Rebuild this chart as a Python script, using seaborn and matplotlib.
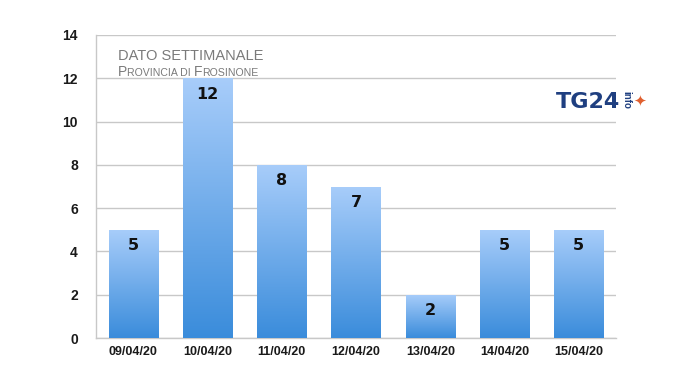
import matplotlib
matplotlib.use("Agg")
import matplotlib.pyplot as plt
import matplotlib.colors as mcolors
import numpy as np
import pandas as pd
import seaborn as sns

dates = ["09/04/20", "10/04/20", "11/04/20", "12/04/20", "13/04/20", "14/04/20", "15/04/20"]
values = [5, 12, 8, 7, 2, 5, 5]
yticks = [0, 2, 4, 6, 8, 10, 12, 14]

df = pd.DataFrame({"date": dates, "value": values})

sns.set_theme(style="white")
plt.rcParams['font.family'] = ['Liberation Sans', 'DejaVu Sans']

fig = plt.figure(figsize=(6.8, 3.83), dpi=100)
ax = fig.add_axes([96/680, 1-338/383, 520/680, (338-35)/383])

sns.barplot(data=df, x="date", y="value", ax=ax, width=0.66, color="#5aa0e6",
            edgecolor="none", zorder=3)

ax.set_ylim(0, 14)
ax.set_xlim(-0.5, len(dates)-0.5)
ax.set_yticks(yticks)
ax.set_yticklabels([str(t) for t in yticks], fontweight="bold", fontsize=10, color="#1a1a1a")
ax.set_xticks(range(len(dates)))
ax.set_xticklabels(dates, fontweight="bold", fontsize=9, color="#1a1a1a")
ax.tick_params(axis="x", length=0, pad=6)
ax.tick_params(axis="y", length=0, pad=13)
ax.set_xlabel("")
ax.set_ylabel("")
ax.grid(axis="y", color="#c8c8c8", linewidth=1, zorder=0)
ax.set_axisbelow(True)
for s in ["top", "right"]:
    ax.spines[s].set_visible(False)
ax.spines["left"].set_color("#c8c8c8")
ax.spines["bottom"].set_color("#c8c8c8")
ax.spines["left"].set_linewidth(1)
ax.spines["bottom"].set_linewidth(1)

# gradient fill per bar
cmap = mcolors.LinearSegmentedColormap.from_list("g", ["#3a8cdb", "#a8cdfa"])
grad = np.linspace(0, 1, 256).reshape(-1, 1)
for p, v in zip(ax.patches, values):
    x0, w, h = p.get_x(), p.get_width(), p.get_height()
    p.set_facecolor("none")
    im = ax.imshow(grad, cmap=cmap, aspect="auto", origin="lower",
                   extent=[x0, x0 + w, 0, h], zorder=3)
    im.set_clip_path(p)
    ax.annotate(str(v), (x0 + w/2, h), xytext=(0, -11.5), textcoords="offset points",
                ha="center", va="center", fontsize=11.5, fontweight="bold",
                color="#111111", family=["DejaVu Sans"], zorder=5)
ax.set_xlim(-0.5, len(dates)-0.5)
ax.set_ylim(0, 14)

# title block
fig.text(118/680, 1-56/383, "DATO SETTIMANALE", fontsize=10.5, color="#7a7a7a",
         va="center", ha="left")
fig.canvas.draw()
renderer = fig.canvas.get_renderer()
parts = [("P", 10), ("ROVINCIA DI ", 7.6), ("F", 10), ("ROSINONE", 7.6)]
xpix = 118
for txt, fs in parts:
    t = fig.text(xpix/680, 1-76/383, txt, fontsize=fs, color="#7a7a7a",
                 va="baseline", ha="left")
    bb = t.get_window_extent(renderer)
    xpix += bb.width

# logo
tg = fig.text(556/680, 1-102/383, "TG24", fontsize=16, fontweight="bold", color="#1f3f80",
              va="center", ha="left", family=["DejaVu Sans"])
bb = tg.get_window_extent(renderer)
fig.text((bb.x1 + 6)/680, 1-100/383, "info", fontsize=7, fontweight="bold", color="#1f3f80",
         va="center", ha="center", rotation=-90)
fig.text((bb.x1 + 20)/680, 1-101/383, "\u2726", fontsize=11, color="#e06030",
         va="center", ha="center", family=["DejaVu Sans"])

fig.savefig("out.png", dpi=100)
